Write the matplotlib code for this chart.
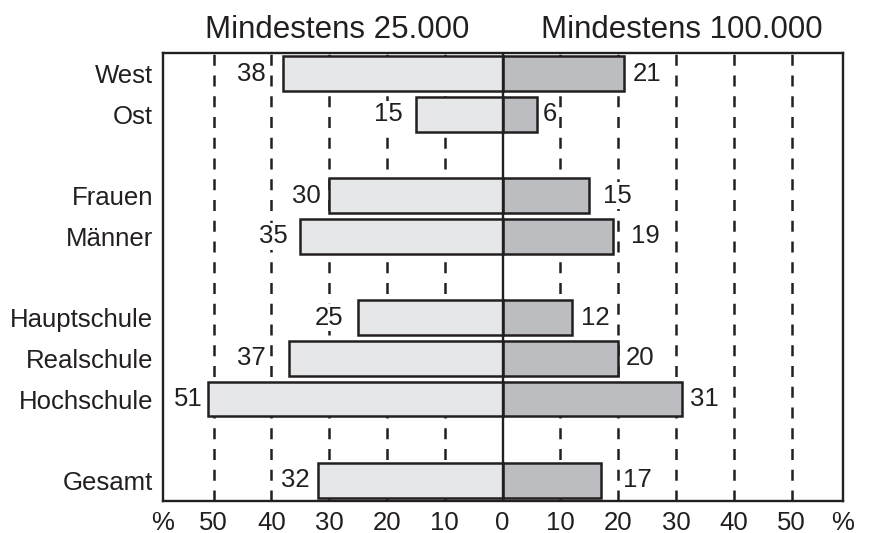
import matplotlib
matplotlib.use("Agg")
import matplotlib.pyplot as plt
import numpy as np

plt.rcParams["font.family"] = ["Liberation Sans", "DejaVu Sans"]

# Data
groups = ["West", "Ost", "Frauen", "Männer", "Hauptschule", "Realschule", "Hochschule", "Gesamt"]
rows = [0, 1, 3, 4, 6, 7, 8, 10]
min_25000 = [38, 15, 30, 35, 25, 37, 51, 32]
min_100000 = [21, 6, 15, 19, 12, 20, 31, 17]
titles = ["Mindestens 25.000", "Mindestens 100.000"]
grid_vals = [-50, -40, -30, -20, -10, 10, 20, 30, 40, 50]

# gap between bar end and its value label (the original nudges them by hand)
left_gap = [3.0, 2.35, 1.4, 2.2, 2.5, 4.0, 0.9, 1.4]
right_gap = [1.5, 0.9, 2.3, 3.2, 1.6, 1.2, 1.4, 3.8]

left_color = "#e6e7e8"
right_color = "#bcbdc0"
ink = "#231f20"

fig = plt.figure(figsize=(8.69, 5.33), dpi=100)
ax = fig.add_axes([0.1872, 0.0600, 0.7825, 0.8411])

xmax = 58.8
ax.set_xlim(-xmax, xmax)
ax.set_ylim(10.51, -0.52)

# dashed grid behind the bars
for g in grid_vals:
    ax.axvline(g, color=ink, lw=1.8, linestyle=(0, (4.4, 3.9)), zorder=1)

ax.barh(rows, [-v for v in min_25000], height=0.86, color=left_color,
        edgecolor=ink, linewidth=1.8, zorder=2)
ax.barh(rows, min_100000, height=0.86, color=right_color,
        edgecolor=ink, linewidth=1.8, zorder=2)
ax.axvline(0, color=ink, lw=1.7, zorder=3)

box = dict(boxstyle="square,pad=0.05", fc="white", ec="none")
for r, a, b, ga, gb in zip(rows, min_25000, min_100000, left_gap, right_gap):
    ax.text(-a - ga, r, str(a), ha="right", va="center", fontsize=18.5,
            color=ink, bbox=box, zorder=4)
    ax.text(b + gb, r, str(b), ha="left", va="center", fontsize=18.5,
            color=ink, bbox=box, zorder=4)

ax.set_yticks(rows)
ax.set_yticklabels(groups, fontsize=18.5, color=ink)

xt = [-xmax, -50, -40, -30, -20, -10, 0, 10, 20, 30, 40, 50, xmax]
xl = ["%", "50", "40", "30", "20", "10", "0", "10", "20", "30", "40", "50", "%"]
ax.set_xticks(xt)
ax.set_xticklabels(xl, fontsize=18.5, color=ink)
ax.tick_params(axis="both", length=0)
ax.tick_params(axis="x", pad=7)
ax.tick_params(axis="y", pad=7)

for s in ax.spines.values():
    s.set_linewidth(1.7)
    s.set_color(ink)

ax.text(-28.6, 1.033, titles[0], transform=ax.get_xaxis_transform(),
        ha="center", va="baseline", fontsize=22.5, color=ink)
ax.text(31.0, 1.033, titles[1], transform=ax.get_xaxis_transform(),
        ha="center", va="baseline", fontsize=22.5, color=ink)

fig.savefig("out.png", dpi=100)
